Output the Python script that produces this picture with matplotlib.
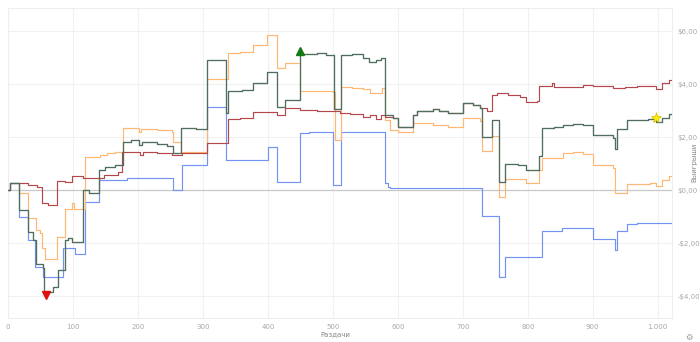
import matplotlib.pyplot as plt
from matplotlib.ticker import FixedLocator, FuncFormatter

# cumulative winnings by hands
net_hands = [0, 3, 17, 31, 39, 43, 54, 56, 70, 77, 88, 93, 98, 115, 125, 140, 150, 165, 177, 190,
             201, 206, 230, 245, 254, 266, 290, 307, 335, 338, 360, 377, 398, 414, 426, 449, 475,
             490, 502, 512, 530, 546, 555, 566, 574, 580, 592, 600, 623, 630, 654, 664, 677, 700,
             715, 726, 729, 745, 755, 765, 785, 798, 817, 822, 840, 854, 870, 885, 900, 931, 934,
             938, 952, 965, 985, 998, 1006, 1018, 1020]
net_won = [0.0, 0.26, -0.75, -1.6, -1.9, -2.8, -2.95, -3.85, -3.65, -3.0, -1.9, -1.8, -1.95, 0.0,
           -0.1, 0.75, 0.87, 0.95, 1.8, 1.9, 1.7, 1.8, 1.75, 1.66, 1.4, 2.34, 2.3, 4.9, 2.9, 3.73,
           3.78, 4.04, 4.45, 3.13, 3.4, 5.13, 5.17, 5.1, 3.06, 5.1, 5.15, 5.0, 4.83, 4.9, 5.0, 2.83,
           2.72, 2.38, 2.83, 3.0, 3.06, 3.0, 2.9, 3.28, 3.2, 3.1, 2.0, 2.64, 0.3, 1.0, 0.95, 0.75,
           1.3, 2.34, 2.38, 2.45, 2.5, 2.45, 2.08, 1.96, 1.55, 2.3, 2.64, 2.66, 2.68, 2.57, 2.7,
           2.87, 2.87]

red_hands = [0, 3, 31, 44, 52, 62, 76, 87, 98, 115, 142, 147, 169, 175, 190, 203, 208, 230, 252,
             268, 306, 338, 357, 377, 414, 426, 449, 475, 511, 526, 546, 557, 566, 574, 580, 592,
             600, 623, 630, 654, 664, 677, 700, 715, 726, 737, 745, 752, 770, 788, 798, 814, 817,
             838, 840, 885, 900, 931, 950, 968, 998, 1006, 1018, 1020]
red_won = [0.0, 0.26, 0.2, 0.1, -0.5, -0.55, 0.34, 0.3, 0.53, 0.47, 0.45, 0.57, 0.68, 1.43, 1.45,
           1.32, 1.43, 1.38, 1.32, 1.4, 1.77, 2.68, 2.72, 2.94, 2.83, 3.09, 3.02, 3.0, 2.9, 2.88,
           2.76, 2.85, 2.68, 2.85, 2.76, 2.72, 2.38, 2.83, 3.0, 3.06, 3.0, 2.9, 3.28, 3.2, 3.1,
           3.0, 3.58, 3.66, 3.6, 3.5, 3.32, 3.35, 3.92, 4.04, 3.9, 3.95, 3.92, 3.85, 3.88, 3.92,
           3.8, 4.04, 4.15, 4.15]

orange_hands = [0, 3, 17, 31, 43, 49, 52, 57, 76, 88, 98, 102, 118, 142, 152, 165, 177, 201, 205,
                230, 252, 254, 266, 306, 338, 357, 377, 398, 414, 426, 449, 475, 500, 503, 512,
                530, 546, 557, 575, 580, 588, 600, 623, 654, 677, 700, 726, 729, 745, 755, 765,
                798, 817, 822, 854, 870, 885, 900, 931, 934, 952, 988, 998, 1006, 1018, 1020]
orange_won = [0.0, 0.26, -0.1, -1.05, -1.5, -1.62, -2.2, -2.6, -1.77, -0.72, -0.5, -0.7, 1.25,
              1.32, 1.4, 1.45, 2.34, 2.2, 2.3, 2.25, 2.2, 1.8, 1.43, 4.19, 5.17, 5.2, 5.47, 5.85,
              4.6, 4.79, 3.73, 3.75, 3.7, 1.9, 3.9, 3.85, 3.8, 3.66, 3.85, 2.64, 2.26, 2.2, 2.53,
              2.45, 2.38, 2.72, 2.6, 1.47, 2.04, -0.26, 0.42, 0.26, 0.75, 1.2, 1.4, 1.45, 1.35,
              0.94, 0.83, -0.11, 0.23, 0.25, 0.15, 0.38, 0.52, 0.52]

blue_hands = [0, 3, 17, 31, 42, 54, 85, 103, 118, 140, 183, 254, 268, 306, 335, 400, 414, 449,
              463, 500, 512, 580, 585, 588, 729, 755, 765, 822, 852, 900, 934, 938, 952, 968, 1020]
blue_won = [0.0, 0.26, -1.0, -1.9, -2.9, -3.3, -2.2, -2.4, -0.45, 0.38, 0.45, 0.0, 0.94, 3.13,
            1.13, 1.62, 0.3, 2.15, 2.2, 0.19, 2.2, 0.26, 0.12, 0.07, -0.98, -3.28, -2.53, -1.55,
            -1.43, -1.85, -2.26, -1.55, -1.28, -1.25, -1.25]

min_point = (58, -3.95)
max_point = (449, 5.25)
star_point = (998, 2.72)

y_ticks = [-4, -2, 0, 2, 4, 6]
x_ticks = [0, 100, 200, 300, 400, 500, 600, 700, 800, 900, 1000]

fig = plt.figure(figsize=(7, 3.42), dpi=100)
ax = fig.add_axes([8 / 700, 1 - 318 / 342, 664 / 700, 310 / 342])

ax.axhline(0, color="#c9c9c9", lw=0.9, zorder=1)
ax.plot(blue_hands, blue_won, drawstyle="steps-post", color="#7393f2", lw=0.85, zorder=2)
ax.plot(orange_hands, orange_won, drawstyle="steps-post", color="#ffb772", lw=0.85, zorder=3)
ax.plot(red_hands, red_won, drawstyle="steps-post", color="#b5474c", lw=0.85, zorder=4)
ax.plot(net_hands, net_won, drawstyle="steps-post", color="#4f6e5e", lw=0.95, zorder=5)

ax.plot(*min_point, marker="v", color="#e01010", ms=6, zorder=6)
ax.plot(*max_point, marker="^", color="#157a15", ms=6, zorder=6)
ax.plot(*star_point, marker="*", color="#ffee00", mec="#d4c000", mew=0.5, ms=8, zorder=6)

ax.set_xlim(0, 1022)
ax.set_ylim(-4.83, 6.87)

ax.yaxis.tick_right()
ax.yaxis.set_major_locator(FixedLocator(y_ticks))
ax.yaxis.set_major_formatter(FuncFormatter(
    lambda v, p: ("-" if v < 0 else "") + "$" + f"{abs(v):.2f}".replace(".", ",")))
ax.xaxis.set_major_locator(FixedLocator(x_ticks))
ax.xaxis.set_major_formatter(FuncFormatter(
    lambda v, p: f"{int(v):,}".replace(",", ".")))
ax.tick_params(length=0, labelsize=5, colors="#a8a8a8", pad=4)

ax.grid(True, color="#f1f1f1", lw=0.8)
ax.set_axisbelow(True)
for s in ax.spines.values():
    s.set_color("#eeeeee")
    s.set_linewidth(0.8)

fig.text(335 / 700, 1 - 334 / 342, "Раздачи", ha="center", va="center", fontsize=5, color="#888888")
fig.text(694 / 700, 1 - 162 / 342, "Выигрыши", ha="center", va="center", rotation=90,
         fontsize=5, color="#888888")
fig.text(689 / 700, 1 - 337 / 342, "⚙", ha="center", va="center", fontsize=6, color="#999999")

fig.savefig("out.png", dpi=100)
